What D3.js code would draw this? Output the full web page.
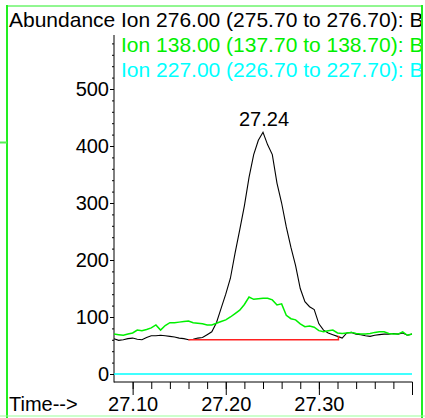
<!DOCTYPE html>
<html>
<head>
<meta charset="utf-8">
<script src="https://cdn.jsdelivr.net/npm/d3@7"></script>
<style>
  body { margin: 0; background: #fff; }
  svg { display: block; font-family: "Liberation Sans", Arial, sans-serif; }
</style>
</head>
<body>
<script>
"use strict";

// scan times (min)
const times = [
  27.080, 27.085, 27.090, 27.095, 27.100, 27.105, 27.110, 27.115, 27.120, 27.125,
  27.130, 27.135, 27.140, 27.145, 27.150, 27.155, 27.160, 27.165, 27.170, 27.175,
  27.180, 27.185, 27.190, 27.195, 27.200, 27.205, 27.210, 27.215, 27.220, 27.225,
  27.230, 27.235, 27.240, 27.245, 27.250, 27.255, 27.260, 27.265, 27.270, 27.275,
  27.280, 27.285, 27.290, 27.295, 27.300, 27.305, 27.310, 27.315, 27.320, 27.325,
  27.330, 27.335, 27.340, 27.345, 27.350, 27.355, 27.360, 27.365, 27.370, 27.375,
  27.380, 27.385, 27.390, 27.395, 27.400
];

// Ion 276.00
const ion276 = [
  62, 59, 60, 62, 63, 61, 60, 64, 67, 67,
  68, 67, 66, 65, 63, 62, 60, 61, 63, 64,
  69, 74, 90, 115, 140, 168, 212, 253, 295, 345,
  385, 410, 424, 402, 385, 335, 300, 258, 222, 190,
  150, 127, 118, 113, 88, 77, 72, 69, 66, 63,
  72, 73, 70, 69, 67, 66, 68, 69, 70, 70,
  71, 70, 72, 68, 70
];

// Ion 138.00
const ion138 = [
  70, 69, 68, 70, 72, 77, 76, 78, 81, 86,
  77, 85, 90, 90, 91, 92, 93, 90, 89, 88,
  86, 86, 89, 92, 95, 100, 106, 112, 122, 135,
  131, 132, 133, 133, 130, 121, 123, 103, 97, 95,
  88, 83, 84, 82, 76, 74, 76, 77, 72, 71,
  72, 73, 71, 70, 70, 71, 73, 74, 74, 71,
  70, 70, 74, 68, 70
];

// Ion 227.00
const ion227 = times.map(() => 0);

const legendLabels = [
  "Ion 276.00 (275.70 to 276.70): B",
  "Ion 138.00 (137.70 to 138.70): B",
  "Ion 227.00 (226.70 to 227.70): B"
];
const seriesColors = ["#000000", "#00f000", "#00ffff"];

// integration baseline for the 276 peak
const baseTimes = [27.160, 27.321];
const baseValues = [60, 60];
const baseEndTop = 67;

const peakTime = 27.24;
const peakValue = 424;
const peakLabel = "27.24";

const yMajor = [0, 100, 200, 300, 400, 500];
const xMajor = [27.10, 27.20, 27.30];

const W = 425, H = 418;
const svg = d3.select("body").append("svg").attr("width", W).attr("height", H);

const x = d3.scaleLinear().domain([27.08, 27.40]).range([114, 412]);
const y = d3.scaleLinear().domain([0, 500]).range([374, 89]);
const axisY = 382;

// frame
const frame = svg.append("g").attr("fill", "none");
frame.append("line").attr("x1", 7).attr("x2", 7).attr("y1", 5).attr("y2", H)
  .attr("stroke", "#22ee22").attr("stroke-width", 2);
frame.append("line").attr("x1", 7).attr("x2", 423).attr("y1", 6).attr("y2", 6)
  .attr("stroke", "#22ee22").attr("stroke-width", 1);
frame.append("line").attr("x1", 422).attr("x2", 422).attr("y1", 5).attr("y2", H)
  .attr("stroke", "#22ee22").attr("stroke-width", 2);
frame.append("line").attr("x1", 0).attr("x2", W).attr("y1", 416).attr("y2", 416)
  .attr("stroke", "#99ff99").attr("stroke-width", 1);
frame.append("line").attr("x1", 0).attr("x2", 7).attr("y1", 142.5).attr("y2", 142.5)
  .attr("stroke", "#55ee55").attr("stroke-width", 2);

// header texts, clipped at the frame
svg.append("clipPath").attr("id", "clipText")
  .append("rect").attr("x", 8).attr("y", 7).attr("width", 413).attr("height", 80);

svg.append("text").attr("x", 9).attr("y", 26.5)
  .attr("font-size", 21).text("Abundance");

svg.append("g").attr("clip-path", "url(#clipText)")
  .selectAll("text").data(legendLabels).enter().append("text")
  .attr("x", 121)
  .attr("y", (d, i) => 26.5 + i * 25)
  .attr("font-size", 21)
  .attr("fill", (d, i) => seriesColors[i])
  .text(d => d);

// y axis
svg.append("line").attr("x1", 114).attr("x2", 114).attr("y1", 35).attr("y2", axisY + 0.5)
  .attr("stroke", "#000");

const yMinorAxis = d3.axisLeft(y).tickValues(d3.range(0, 581, 20)).tickSize(2).tickFormat("");
svg.append("g").attr("transform", "translate(114,0)").call(yMinorAxis)
  .call(g => g.select(".domain").remove());

const yAxis = d3.axisLeft(y).tickValues(yMajor).tickSize(4).tickPadding(1);
svg.append("g").attr("transform", "translate(114,0)").call(yAxis)
  .call(g => g.select(".domain").remove())
  .call(g => g.selectAll("text").attr("font-size", 20).attr("font-family", "Liberation Sans, Arial, sans-serif").attr("fill", "#000"));

// x axis
svg.append("line").attr("x1", 114).attr("x2", 412.5).attr("y1", axisY).attr("y2", axisY)
  .attr("stroke", "#000");

const xMinorAxis = d3.axisBottom(x).tickValues(d3.range(27.10, 27.401, 0.02)).tickSize(7).tickFormat("");
svg.append("g").attr("transform", `translate(0,${axisY})`).call(xMinorAxis)
  .call(g => g.select(".domain").remove());

const xAxis = d3.axisBottom(x).tickValues(xMajor.concat([27.40])).tickSize(13).tickPadding(2)
  .tickFormat(d => xMajor.includes(d) ? d3.format(".2f")(d) : "");
svg.append("g").attr("transform", `translate(0,${axisY})`).call(xAxis)
  .call(g => g.select(".domain").remove())
  .call(g => g.selectAll("text").attr("font-size", 20).attr("font-family", "Liberation Sans, Arial, sans-serif").attr("fill", "#000"));

svg.append("text").attr("x", 9).attr("y", 410.5).attr("font-size", 20).text("Time-->");

// traces
const line = d3.line().x((d, i) => x(times[i])).y(d => y(d));

svg.append("path").datum(ion227).attr("d", line)
  .attr("fill", "none").attr("stroke", seriesColors[2]).attr("stroke-width", 1.5);

svg.append("path").datum(ion276).attr("d", line)
  .attr("fill", "none").attr("stroke", seriesColors[0]).attr("stroke-width", 1.1);

svg.append("path").datum(ion138).attr("d", line)
  .attr("fill", "none").attr("stroke", seriesColors[1]).attr("stroke-width", 1.5);

// baseline
svg.append("path")
  .attr("d", d3.line()([
    [x(baseTimes[0]), y(baseValues[0])],
    [x(baseTimes[1]), y(baseValues[1])],
    [x(baseTimes[1]), y(baseEndTop)]
  ]))
  .attr("fill", "none").attr("stroke", "#ff2020").attr("stroke-width", 1.5);

// peak label
svg.append("text").attr("x", x(peakTime) + 1).attr("y", y(peakValue) - 6)
  .attr("text-anchor", "middle").attr("font-size", 20).text(peakLabel);
</script>
</body>
</html>
